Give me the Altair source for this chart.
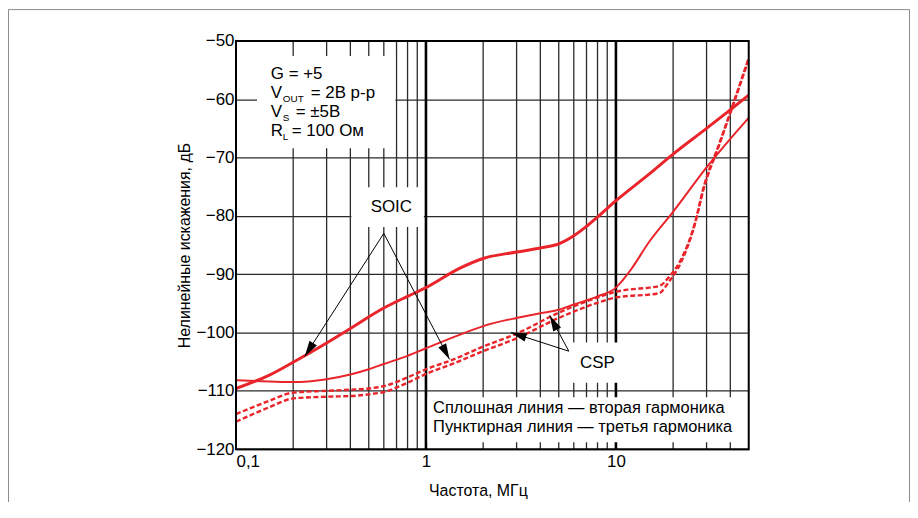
import math
import altair as alt
import pandas as pd

# ---------------- values ----------------
soic_h2_freq = [0.1, 0.15, 0.2, 0.3, 0.4, 0.6, 0.8, 1, 1.5, 2, 3, 4, 5, 6, 7, 8, 10, 15, 20, 30, 40, 50]
soic_h2_db = [-109.6, -107.3, -105.1, -101.8, -99.3, -95.8, -93.8, -92.3, -89.0, -87.3, -86.2, -85.5,
              -84.8, -83.4, -81.8, -80.2, -77.4, -72.8, -69.4, -65.0, -61.8, -59.3]

csp_h2_freq = [0.1, 0.15, 0.2, 0.3, 0.4, 0.5, 0.6, 0.8, 1, 1.5, 2, 3, 4, 5, 6, 8, 10, 11, 12, 15, 20, 30, 40, 50]
csp_h2_db = [-108.2, -108.4, -108.5, -108.0, -107.2, -106.3, -105.4, -104.0, -102.7, -100.4, -98.9, -97.5,
             -96.7, -96.1, -95.2, -93.8, -92.3, -90.8, -89.2, -84.4, -79.3, -71.7, -66.8, -63.2]

h3_freq = [0.1, 0.15, 0.2, 0.3, 0.4, 0.5, 0.6, 0.8, 1, 1.4, 2, 3, 5, 8, 10, 12, 15, 17, 19, 22, 26, 29, 35, 42, 50]
soic_h3_db = [-114.0, -111.7, -110.3, -110.0, -109.8, -109.6, -109.2, -107.7, -106.3, -104.6, -102.4, -100.2,
              -96.6, -94.0, -93.0, -92.6, -92.3, -92.0, -90.5, -87.5, -81.3, -75.0, -67.6, -60.2, -52.9]
csp_h3_db = [-115.3, -112.8, -111.3, -111.0, -110.9, -110.6, -110.2, -108.6, -107.1, -105.3, -103.2, -101.0,
             -97.5, -94.9, -94.0, -93.7, -93.5, -93.2, -91.3, -88.0, -81.5, -75.3, -67.8, -60.4, -53.1]

x_ticks = [0.1, 1, 10]
y_ticks = [-120, -110, -100, -90, -80, -70, -60, -50]
minor_grid_freq = [0.2, 0.3, 0.4, 0.5, 0.6, 0.7, 0.8, 0.9, 2, 3, 4, 5, 6, 7, 8, 9, 20, 30, 40]
major_grid_freq = [1, 10]

# annotation arrows (start -> tip), in chart units
arrow_from_freq = [0.60, 0.60, 5.65, 5.65]
arrow_from_db = [-83.0, -83.0, -103.2, -103.2]
arrow_to_freq = [0.23, 1.33, 2.80, 4.48]
arrow_to_db = [-104.1, -104.6, -100.0, -97.1]

# white label backgrounds, in chart units
box_f1 = [0.129, 0.405, 5.24, 1.02]
box_f2 = [0.69, 0.975, 10.8, 49.4]
box_d1 = [-52.6, -75.1, -101.7, -111.1]
box_d2 = [-68.4, -81.9, -108.6, -118.8]

legend_lines = ["Сплошная линия — вторая гармоника", "Пунктирная линия — третья гармоника"]

# ---------------- chart ----------------
W, H = 515, 410
RED = "#e9252b"
FONT = "Liberation Sans"
XMIN, XMAX, YMIN, YMAX = 0.1, 50, -120, -50

xs = alt.Scale(type="log", domain=[XMIN, XMAX], nice=False)
ys = alt.Scale(domain=[YMIN, YMAX], nice=False, zero=False)

X_AXIS = alt.Axis(values=x_ticks, labelExpr="datum.value < 0.5 ? '0,1' : (datum.value < 5 ? '1' : '10')",
                  title="Частота, МГц", grid=False, ticks=False, domain=False, labelPadding=4,
                  labelFont=FONT, labelFontSize=17, labelColor="black", titleFont=FONT, titleFontSize=16,
                  titleFontWeight="normal", titleColor="black", titlePadding=14, titleX=243)
Y_AXIS = alt.Axis(values=y_ticks, format="d", title="Нелинейные искажения, дБ", grid=True,
                  gridColor="#2a2a2a", gridWidth=1.3, ticks=False, domain=False, labelPadding=2,
                  labelFont=FONT, labelFontSize=17, labelColor="black", titleFont=FONT, titleFontSize=16,
                  titleFontWeight="normal", titleColor="black", titlePadding=3)


def X(field):
    return alt.X(field, type="quantitative", scale=xs, axis=X_AXIS)


def Y(field):
    return alt.Y(field, type="quantitative", scale=ys, axis=Y_AXIS)


one = pd.DataFrame({"k": [0]})

minor = alt.Chart(pd.DataFrame({"f": minor_grid_freq})).mark_rule(color="#2a2a2a", strokeWidth=1.3).encode(x=X("f"))
major = alt.Chart(pd.DataFrame({"f": major_grid_freq})).mark_rule(color="black", strokeWidth=2.6).encode(x=X("f"))
yanchor = alt.Chart(pd.DataFrame({"d": y_ticks})).mark_rule(opacity=0).encode(y=Y("d"))

boxes = alt.Chart(pd.DataFrame({"f1": box_f1, "f2": box_f2, "d1": box_d1, "d2": box_d2})).mark_rect(
    color="white").encode(x=X("f1"), x2="f2", y=Y("d1"), y2="d2")


def curve(freq, db, width, dash=None):
    kw = dict(color=RED, strokeWidth=width, interpolate="monotone", clip=True)
    if dash:
        kw["strokeDash"] = dash
    return alt.Chart(pd.DataFrame({"f": freq, "d": db})).mark_line(**kw).encode(
        x=X("f"), y=Y("d"), order="f:Q")


c_csp3 = curve(h3_freq, csp_h3_db, 2.4, [5, 2.5])
c_soic3 = curve(h3_freq, soic_h3_db, 2.4, [5, 2.5])
c_csp2 = curve(csp_h2_freq, csp_h2_db, 2.0)
c_soic2 = curve(soic_h2_freq, soic_h2_db, 3.0)

arrows_df = pd.DataFrame({"f1": arrow_from_freq, "d1": arrow_from_db, "f2": arrow_to_freq, "d2": arrow_to_db})


def px(f):
    return W * math.log10(f / XMIN) / math.log10(XMAX / XMIN)


def py(d):
    return H * (YMAX - d) / (YMAX - YMIN)


arrows_df["ang"] = [
    math.degrees(math.atan2(px(b) - px(a), -(py(d) - py(c)))) % 360
    for a, c, b, d in zip(arrow_from_freq, arrow_from_db, arrow_to_freq, arrow_to_db)
]

arrow_lines = alt.Chart(arrows_df).mark_rule(color="black", strokeWidth=1).encode(
    x=X("f1"), y=Y("d1"), x2="f2", y2="d2")
arrow_heads = alt.Chart(arrows_df).mark_point(
    shape="M0,0 L-0.28,1 L0.28,1 Z", filled=True, color="black", opacity=1, size=1000, strokeWidth=0
).encode(x=X("f2"), y=Y("d2"), angle=alt.Angle("ang:Q", scale=None))


def txt(text, x, y, size=17, align="left"):
    return alt.Chart(one).mark_text(text=text, font=FONT, fontSize=size, color="black", align=align,
                                    baseline="alphabetic").encode(x=alt.value(x), y=alt.value(y))


texts = [
    txt("G = +5", 35, 38),
    txt("V", 35, 57), txt("OUT", 47, 61, 10), txt("= 2В p-p", 75, 57),
    txt("V", 35, 76), txt("S", 47, 80, 10), txt("= ±5В", 60, 76),
    txt("R", 35, 95), txt("L", 47, 99, 10), txt("= 100 Ом", 56, 95),
    txt("SOIC", 156, 172, 17, "center"),
    txt("CSP", 363, 328, 17, "center"),
    txt(legend_lines[0], 198, 374, 16.5),
    txt(legend_lines[1], 198, 393, 16.5),
]

frame = alt.Chart(one).mark_rect(fillOpacity=0, stroke="black", strokeWidth=2).encode(
    x=alt.value(0), x2=alt.value(W), y=alt.value(0), y2=alt.value(H))
outer = alt.Chart(one).mark_rect(fillOpacity=0, stroke="#8a8a8a", strokeWidth=1).encode(
    x=alt.value(-228.5), x2=alt.value(W + 161.5), y=alt.value(-31.5), y2=alt.value(H + 70))

chart = alt.layer(
    minor, major, yanchor, boxes, c_csp3, c_soic3, c_csp2, c_soic2, arrow_lines, arrow_heads, *texts, frame, outer
).properties(
    width=W, height=H,
    autosize=alt.AutoSizeParams(type="none"),
    padding={"left": 229, "top": 32, "right": 162, "bottom": 52},
).configure_view(stroke=None).configure(background="white")

chart.save("out.html", embed_options={"renderer": "svg", "actions": False})
